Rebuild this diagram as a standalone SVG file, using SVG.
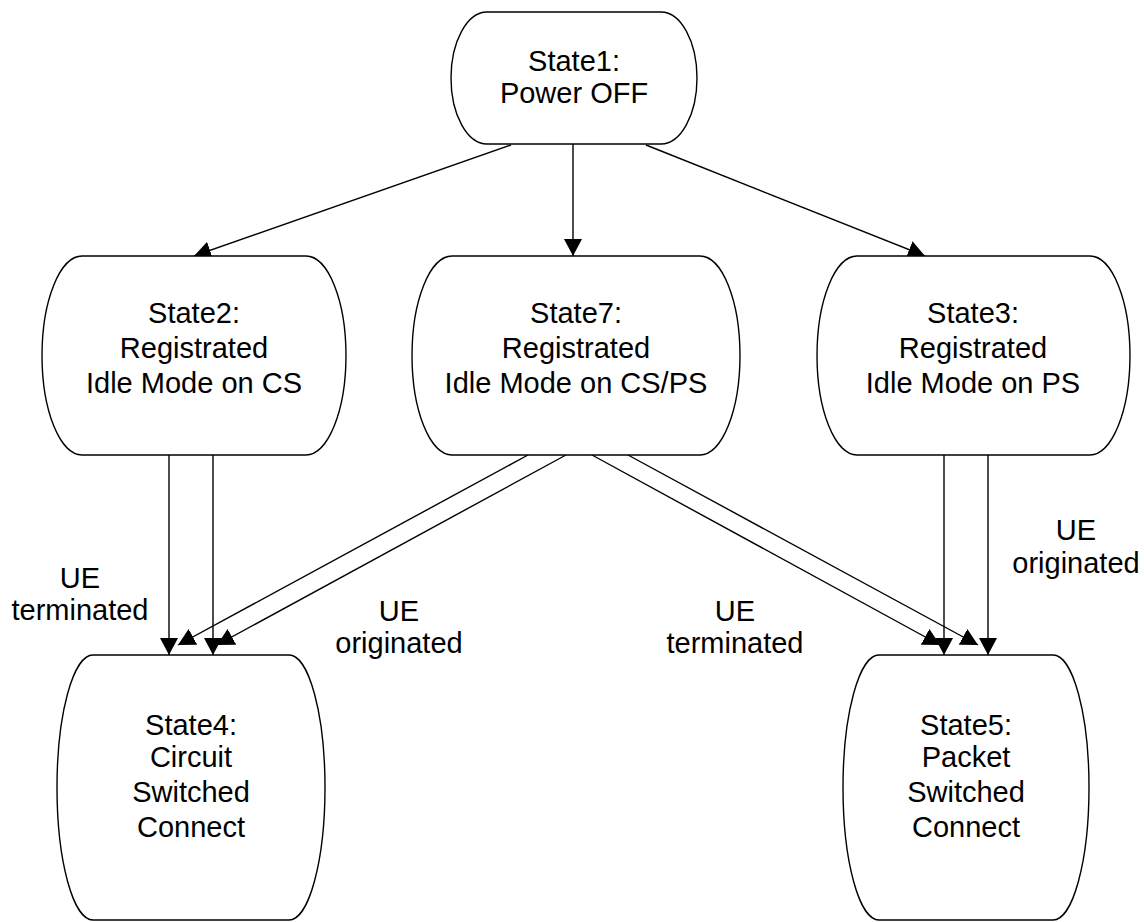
<svg xmlns="http://www.w3.org/2000/svg" width="1144" height="922" viewBox="0 0 1144 922">
  <style>
    .node { fill: #ffffff; stroke: #000000; stroke-width: 1.4; }
    .edge { fill: none; stroke: #000000; stroke-width: 1.4; marker-end: url(#arrow); }
    text { font-family: "Liberation Sans", Arial, sans-serif; font-size: 29px; fill: #000000; text-anchor: middle; }
  </style>
  <defs>
    <marker id="arrow" markerUnits="userSpaceOnUse" markerWidth="18" markerHeight="19" viewBox="0 0 18 19" refX="17" refY="9.5" orient="auto">
      <path d="M0,0.5 L17,9.5 L0,18.5 Z" fill="#000000"/>
    </marker>
  </defs>
  <rect x="0" y="0" width="1144" height="922" fill="#ffffff"/>

  <g id="connectors">
    <line class="edge" x1="573" y1="144" x2="573" y2="256"/>
    <line class="edge" x1="511" y1="145" x2="194" y2="256"/>
    <line class="edge" x1="646" y1="145" x2="925" y2="256"/>
    <line class="edge" x1="169" y1="455" x2="169" y2="655"/>
    <line class="edge" x1="213" y1="455" x2="213" y2="655"/>
    <line class="edge" x1="944" y1="455" x2="944" y2="655"/>
    <line class="edge" x1="988" y1="455" x2="988" y2="655"/>
    <line class="edge" x1="528" y1="455" x2="178" y2="645"/>
    <line class="edge" x1="566" y1="455" x2="217" y2="645"/>
    <line class="edge" x1="592" y1="455" x2="940" y2="645"/>
    <line class="edge" x1="628" y1="455" x2="978" y2="645"/>
  </g>

  <g id="state1">
    <path class="node" d="M487,12 H661 A36,66 0 0 1 661,144 H487 A36,66 0 0 1 487,12 Z"/>
    <text x="574" y="71">State1:</text>
    <text x="574" y="103">Power OFF</text>
  </g>

  <g id="state2">
    <path class="node" d="M82,256 H306 A40,99.5 0 0 1 306,455 H82 A40,99.5 0 0 1 82,256 Z"/>
    <text x="194" y="323">State2:</text>
    <text x="194" y="358">Registrated</text>
    <text x="194" y="393">Idle Mode on CS</text>
  </g>

  <g id="state7">
    <path class="node" d="M452,256 H700 A40,99.5 0 0 1 700,455 H452 A40,99.5 0 0 1 452,256 Z"/>
    <text x="576" y="323">State7:</text>
    <text x="576" y="358">Registrated</text>
    <text x="576" y="393">Idle Mode on CS/PS</text>
  </g>

  <g id="state3">
    <path class="node" d="M857,256 H1090 A40,99.5 0 0 1 1090,455 H857 A40,99.5 0 0 1 857,256 Z"/>
    <text x="973" y="323">State3:</text>
    <text x="973" y="358">Registrated</text>
    <text x="973" y="393">Idle Mode on PS</text>
  </g>

  <g id="state4">
    <path class="node" d="M93,655 H289 A36,132.5 0 0 1 289,920 H93 A36,132.5 0 0 1 93,655 Z"/>
    <text x="191" y="735">State4:</text>
    <text x="191" y="767">Circuit</text>
    <text x="191" y="802">Switched</text>
    <text x="191" y="837">Connect</text>
  </g>

  <g id="state5">
    <path class="node" d="M879,655 H1053 A36,132.5 0 0 1 1053,920 H879 A36,132.5 0 0 1 879,655 Z"/>
    <text x="966" y="735">State5:</text>
    <text x="966" y="767">Packet</text>
    <text x="966" y="802">Switched</text>
    <text x="966" y="837">Connect</text>
  </g>

  <g id="labels">
    <text x="80" y="588">UE</text>
    <text x="80" y="620">terminated</text>
    <text x="399" y="621">UE</text>
    <text x="399" y="653">originated</text>
    <text x="735" y="621">UE</text>
    <text x="735" y="653">terminated</text>
    <text x="1076" y="540">UE</text>
    <text x="1076" y="573">originated</text>
  </g>
</svg>
